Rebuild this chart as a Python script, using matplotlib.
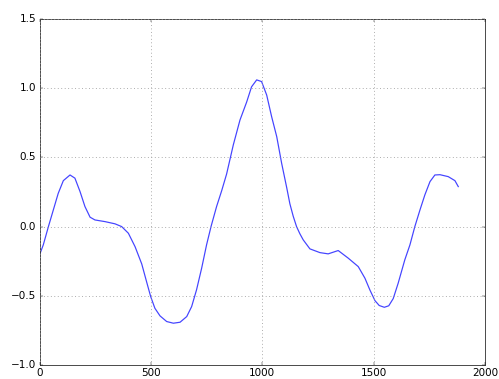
import matplotlib
matplotlib.use("Agg")
import matplotlib.pyplot as plt

# Sampled signal
x = [0, 17, 40, 62, 84, 107, 137, 159, 182, 204, 227, 249, 294, 339, 369,
     399, 429, 459, 481, 499, 518, 541, 571, 601, 631, 661, 683, 705, 728,
     750, 770, 795, 818, 840, 870, 900, 930, 952, 975, 997, 1020, 1042, 1065,
     1087, 1110, 1124, 1139, 1154, 1169, 1184, 1214, 1259, 1296, 1341, 1386,
     1431, 1461, 1483, 1506, 1525, 1548, 1568, 1588, 1610, 1640, 1663, 1685,
     1708, 1730, 1753, 1775, 1798, 1835, 1865, 1880]
y = [-0.205, -0.132, 0.0, 0.12, 0.24, 0.332, 0.373, 0.35, 0.253, 0.145, 0.068,
     0.048, 0.036, 0.02, 0.0, -0.048, -0.145, -0.27, -0.40, -0.505, -0.59,
     -0.645, -0.686, -0.698, -0.691, -0.65, -0.578, -0.457, -0.30, -0.132,
     0.0, 0.145, 0.26, 0.38, 0.59, 0.77, 0.90, 1.01, 1.06, 1.048, 0.95, 0.795,
     0.65, 0.458, 0.28, 0.165, 0.075, 0.0, -0.052, -0.096, -0.161, -0.188,
     -0.197, -0.173, -0.228, -0.289, -0.373, -0.457, -0.535, -0.57, -0.583,
     -0.572, -0.52, -0.41, -0.24, -0.132, 0.0, 0.12, 0.229, 0.325, 0.373,
     0.375, 0.361, 0.332, 0.289]

xticks = [0, 500, 1000, 1500, 2000]
yticks = [-1.0, -0.5, 0.0, 0.5, 1.0, 1.5]

plt.style.use("classic")
plt.rcParams["figure.facecolor"] = "white"
plt.rcParams["savefig.facecolor"] = "white"

fig = plt.figure(figsize=(8, 379 / 62.375), dpi=62.375)
ax = fig.add_axes([39.5 / 499, 14 / 379, 445.5 / 499, 346 / 379])
ax.plot(x, y, color="#4444ff", linewidth=1.4, solid_joinstyle="round")
ax.set_xlim(0, 2000)
ax.set_ylim(-1.0, 1.5)
ax.set_xticks(xticks)
ax.set_yticks(yticks)
ax.grid(True, color="#999999", linestyle=":", linewidth=1.0)
for s in ax.spines.values():
    s.set_color("#333333")

fig.savefig("out.png", dpi=62.375)
